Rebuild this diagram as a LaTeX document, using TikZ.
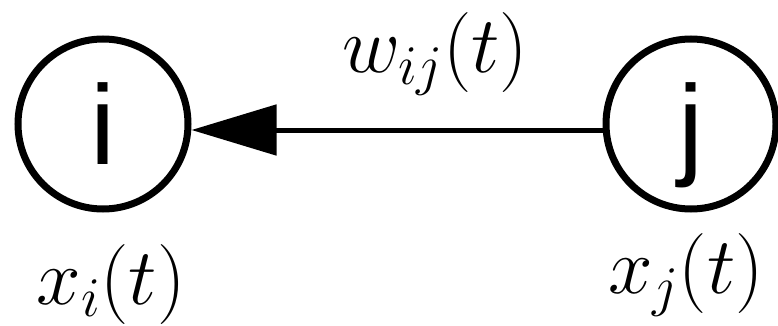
\RequirePackage{fix-cm}
\documentclass[tikz,border=0pt]{standalone}
\usepackage{fontspec}
\newfontfamily\nodefont{Liberation Sans}
\usetikzlibrary{arrows.meta}
\tikzset{
  vertex/.style={circle, draw, line width=7pt, minimum size=170pt, inner sep=0pt,
    font=\nodefont\fontsize{113}{120}\selectfont, text height=81pt, text depth=0pt},
  edgearrow/.style={line width=5pt, -{Triangle[length=85pt,width=50pt]}},
  mathlabel/.style={anchor=base, inner sep=0pt, font=\fontsize{80}{96}\selectfont}
}
\begin{document}
\begin{tikzpicture}[x=1pt,y=-1pt]
\useasboundingbox (0,0) rectangle (778,326);
\fill[white] (0,0) rectangle (778,326);
\node[vertex] (i) at (103,124) {i};
\node[vertex] (j) at (691,124) {j};
\draw[edgearrow] ([yshift=-6pt]j.west) -- ([yshift=-6pt]i.east);
\node[mathlabel] (wij) at (435,73) {$w_{ij}(t)$};
\node[mathlabel] (xi) at (111,304) {$x_i(t)$};
\node[mathlabel] (xj) at (686,293) {$x_j(t)$};
\end{tikzpicture}
\end{document}
